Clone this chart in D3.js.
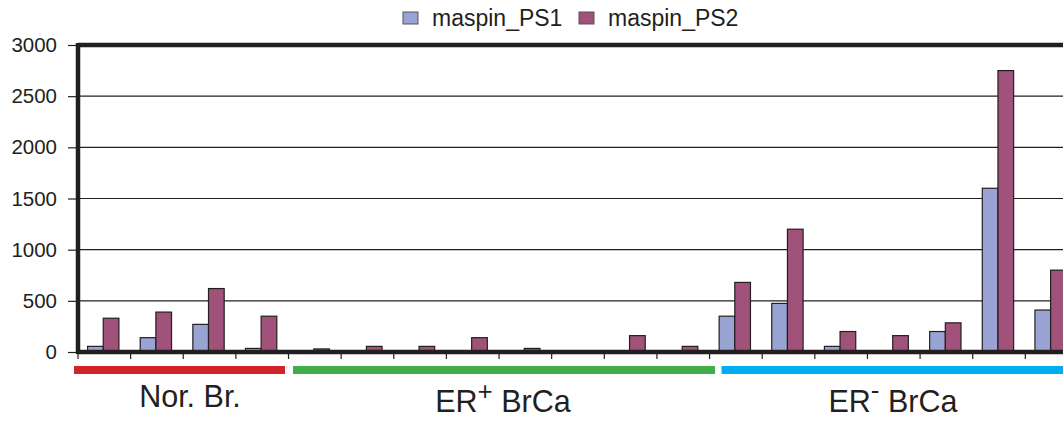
<!DOCTYPE html>
<html>
<head>
<meta charset="utf-8">
<script src="https://cdn.jsdelivr.net/npm/d3@7"></script>
<style>
  html, body { margin: 0; padding: 0; background: #fff; }
  svg { display: block; font-family: "Liberation Sans", Arial, sans-serif; }
</style>
</head>
<body>
<svg id="chart" width="1063" height="421"></svg>
<script>
// ---- data ----
const samples = d3.range(1, 20).map(i => "S" + i);
const seriesNames = ["maspin_PS1", "maspin_PS2"];
const ps1 = [55, 140, 270, 35,   10, 10, 10, 10, 10, 12, 10, 10,   350, 475, 55, 10, 200, 1600, 410];
const ps2 = [330, 390, 620, 350, 30, 55, 55, 140, 35, 12, 160, 55,  680, 1200, 200, 160, 285, 2750, 800];
const yTicks = [0, 500, 1000, 1500, 2000, 2500, 3000];
const groupNames = ["Nor. Br.", "ER", "ER"];
const groupSup = ["", "+", "-"];
const groupSizes = [4, 8, 7];

// ---- styles ----
const colors = { "maspin_PS1": "#99a4d4", "maspin_PS2": "#a0527a" };
const groupColors = ["#d2232a", "#3fae49", "#00aeef"];
const ink = "#231f20";

const svg = d3.select("#chart");
const pLeft = 78, pTop = 45, pBottom = 352, step = 52.63;
const pRight = pLeft + step * samples.length;

const x0 = d3.scaleBand().domain(samples).range([pLeft, pRight]).padding(0);
const x1 = d3.scaleBand().domain(seriesNames).range([0, x0.bandwidth()])
  .paddingInner(0).paddingOuter(0.68).align(0.45);
const y = d3.scaleLinear().domain([0, 3000]).range([pBottom, pTop]);

// gridlines
svg.append("g").selectAll("line").data(yTicks.filter(t => t > 0 && t < 3000)).join("line")
  .attr("x1", pLeft).attr("x2", pRight)
  .attr("y1", d => y(d)).attr("y2", d => y(d))
  .attr("stroke", ink).attr("stroke-width", 1.2);

// y axis ticks & labels
const yAxis = d3.axisLeft(y).tickValues(yTicks).tickSize(10).tickPadding(11).tickFormat(d3.format("d"));
const gy = svg.append("g").attr("transform", `translate(${pLeft},0)`).call(yAxis);
gy.select(".domain").remove();
gy.selectAll(".tick line").attr("stroke", ink).attr("stroke-width", 1.2);
gy.selectAll(".tick text").attr("font-size", 20.5).attr("fill", ink)
  .attr("font-family", "Liberation Sans, Arial, sans-serif");

// x axis tick marks at category boundaries
const bounds = samples.map(s => x0(s));
svg.append("g").selectAll("line").data(bounds).join("line")
  .attr("x1", d => d).attr("x2", d => d)
  .attr("y1", pBottom).attr("y2", pBottom + 7)
  .attr("stroke", ink).attr("stroke-width", 1.2);

// bars
const data = samples.map((s, i) => ({ s, vals: [ps1[i], ps2[i]] }));
svg.append("g").selectAll("g").data(data).join("g")
  .attr("transform", d => `translate(${x0(d.s)},0)`)
  .selectAll("rect").data(d => d.vals.map((v, j) => ({ key: seriesNames[j], v })))
  .join("rect")
  .attr("x", d => x1(d.key))
  .attr("width", x1.bandwidth())
  .attr("y", d => y(d.v))
  .attr("height", d => pBottom - y(d.v))
  .attr("fill", d => colors[d.key])
  .attr("stroke", ink).attr("stroke-width", 1.2);

// frame (thick)
svg.append("line").attr("x1", pLeft).attr("x2", pRight).attr("y1", pBottom).attr("y2", pBottom)
  .attr("stroke", ink).attr("stroke-width", 4.5);
svg.append("line").attr("x1", pLeft).attr("x2", pRight + 2).attr("y1", pTop).attr("y2", pTop)
  .attr("stroke", ink).attr("stroke-width", 4.5);
svg.append("line").attr("x1", pLeft).attr("x2", pLeft).attr("y1", pTop - 2).attr("y2", pBottom + 2)
  .attr("stroke", ink).attr("stroke-width", 4.5);
svg.append("line").attr("x1", pRight).attr("x2", pRight).attr("y1", pTop - 2).attr("y2", pBottom + 2)
  .attr("stroke", ink).attr("stroke-width", 4.5);

// group color bars & labels
let startIdx = 0;
const groups = groupSizes.map((n, g) => {
  const o = { g, first: startIdx, last: startIdx + n - 1 };
  startIdx += n;
  return o;
});
const startOff = [-4, 4.5, 12];
const endOff = [-3.5, 5.5, 10];
const labelY = [406.5, 412, 412];
groups.forEach(o => {
  const xa = x0(samples[o.first]) + startOff[o.g];
  const xb = x0(samples[o.last]) + x0.bandwidth() + endOff[o.g];
  svg.append("rect").attr("x", xa).attr("y", 366).attr("width", xb - xa).attr("height", 8)
    .attr("fill", groupColors[o.g]);
});
const labelCx = [190, 503, 893];
groups.forEach(o => {
  const t = svg.append("text").attr("x", labelCx[o.g]).attr("y", labelY[o.g])
    .attr("text-anchor", "middle").attr("font-size", 30.5).attr("fill", ink);
  t.append("tspan").text(groupNames[o.g]);
  if (groupSup[o.g]) {
    if (groupSup[o.g] === "+") {
      t.append("tspan").attr("font-size", 26).attr("dy", -12).text("+");
      t.append("tspan").attr("dy", 12).text(" BrCa");
    } else {
      t.append("tspan").attr("font-size", 26).attr("dy", -13).text("-");
      t.append("tspan").attr("dy", 13).text(" BrCa");
    }
  }
});

// legend
const legX = [403, 579];
seriesNames.forEach((name, i) => {
  svg.append("rect").attr("x", legX[i]).attr("y", 12).attr("width", 15).attr("height", 12)
    .attr("fill", colors[name]).attr("stroke", "#555").attr("stroke-width", 1);
  svg.append("text").attr("x", legX[i] + 29).attr("y", 25.5)
    .attr("font-size", 23).attr("fill", ink).text(name);
});
</script>
</body>
</html>
